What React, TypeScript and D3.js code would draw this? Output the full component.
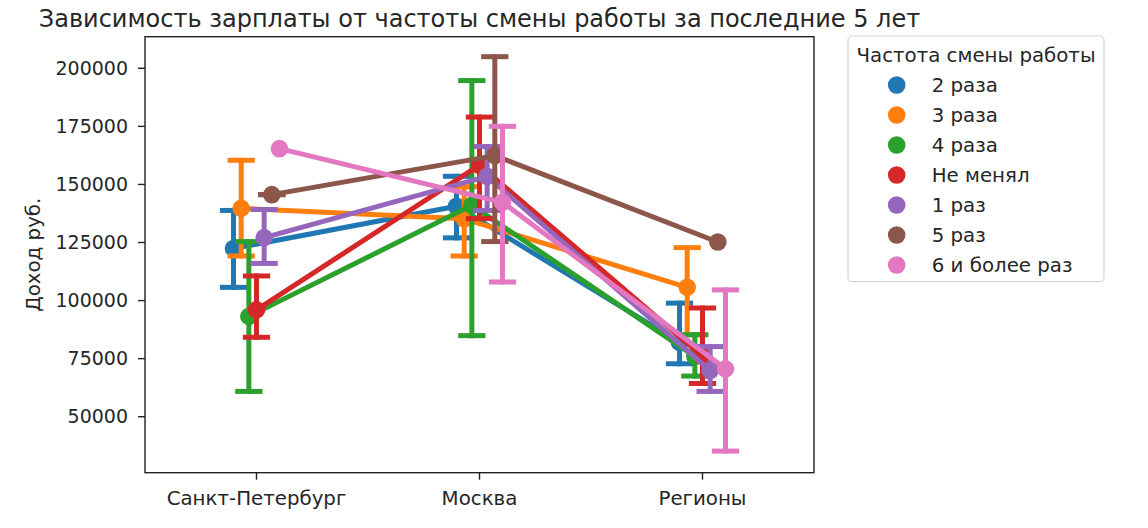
import React from 'react'
import * as d3 from 'd3'

// categories on the x axis
const categories = ['Санкт-Петербург', 'Москва', 'Регионы']

// hue levels (legend order)
const seriesNames = ['2 раза', '3 раза', '4 раза', 'Не менял', '1 раз', '5 раз', '6 и более раз']
const seriesColors = ['#1f77b4', '#ff7f0e', '#2ca02c', '#d62728', '#9467bd', '#8c564b', '#e377c2']

// estimated means per series (SPb, Moscow, Regions)
const means2 = [122400, 140600, 82000]
const means3 = [139700, 135200, 105700]
const means4 = [93200, 141000, 76000]
const meansNone = [96000, 158300, 76000]
const means1 = [127100, 153500, 69900]
const means5 = [145600, 162400, 125200]
const means6 = [165400, 142300, 70600]

// confidence intervals (low / high), null = no bar drawn
const lo2 = [105700, 127000, 72800]
const hi2 = [138800, 153500, 98900]
const lo3 = [119200, 119200, 85300]
const hi3 = [160400, 149000, 122800]
const lo4 = [60900, 84900, 67500]
const hi4 = [125400, 194700, 85300]
const loNone = [84200, 135300, 64300]
const hiNone = [110600, 179000, 96800]
const lo1 = [116000, 138800, 60900]
const hi1 = [139200, 166300, 80200]
const lo5 = [145600, 125400, null]
const hi5 = [145600, 205000, null]
const lo6 = [null, 108000, 35200]
const hi6 = [null, 175000, 104600]

const yTicks = [50000, 75000, 100000, 125000, 150000, 175000, 200000]

const allMeans = [means2, means3, means4, meansNone, means1, means5, means6]
const allLo = [lo2, lo3, lo4, loNone, lo1, lo5, lo6]
const allHi = [hi2, hi3, hi4, hiNone, hi1, hi5, hi6]

const FONT = 'DejaVu Sans, sans-serif'
const TEXT = '#262626'

function App() {
  const left = 145
  const right = 814
  const top = 36.7
  const bottom = 472.7

  const x = d3.scaleLinear().domain([-0.5, categories.length - 0.5]).range([left, right])
  const y = d3.scaleLinear().domain([25900, 213600]).range([bottom, top])

  // seaborn-like dodge
  const n = seriesNames.length
  const dodge = 0.206
  const offsets = d3.range(n).map(j => (j / (n - 1)) * dodge - dodge / 2)
  const capHalf = 0.05
  const lw = 5

  const line = d3
    .line<[number, number]>()
    .x(d => d[0])
    .y(d => d[1])

  return (
    <svg
      width={1148}
      height={528}
      style={{position: 'absolute', left: 0, top: 0, background: 'white'}}
      fontFamily={FONT}>
      {/* title */}
      <text x={(left + right) / 2} y={26.5} textAnchor="middle" fontSize={24} fill={TEXT}>
        Зависимость зарплаты от частоты смены работы за последние 5 лет
      </text>

      {/* y ticks */}
      {yTicks.map(t => (
        <g key={t}>
          <line x1={left - 7} x2={left} y1={y(t)} y2={y(t)} stroke="#222" strokeWidth={1.4} />
          <text x={left - 17} y={y(t)} dy="0.35em" textAnchor="end" fontSize={19} fill={TEXT}>
            {t}
          </text>
        </g>
      ))}
      {/* x ticks */}
      {categories.map((c, i) => (
        <g key={c}>
          <line x1={x(i)} x2={x(i)} y1={bottom} y2={bottom + 7} stroke="#222" strokeWidth={1.4} />
          <text x={x(i)} y={505} textAnchor="middle" fontSize={19.8} fill={TEXT}>
            {c}
          </text>
        </g>
      ))}
      <text
        transform={`translate(${33},${(top + bottom) / 2}) rotate(-90)`}
        textAnchor="middle"
        dy="0.35em"
        fontSize={19.8}
        fill={TEXT}>
        Доход руб.
      </text>

      {/* series */}
      {seriesNames.map((name, j) => {
        const color = seriesColors[j]
        const pts: [number, number][] = allMeans[j].map((v, i) => [x(i + offsets[j]), y(v)])
        return (
          <g key={name}>
            <path d={line(pts) || ''} fill="none" stroke={color} strokeWidth={lw} strokeLinejoin="round" />
            {allMeans[j].map((_, i) => {
              const l = allLo[j][i]
              const h = allHi[j][i]
              if (l == null || h == null) return null
              const cx = i + offsets[j]
              return (
                <g key={i} stroke={color} strokeWidth={lw} strokeLinecap="square">
                  <line x1={x(cx)} x2={x(cx)} y1={y(l)} y2={y(h)} />
                  <line x1={x(cx - capHalf)} x2={x(cx + capHalf)} y1={y(l)} y2={y(l)} />
                  <line x1={x(cx - capHalf)} x2={x(cx + capHalf)} y1={y(h)} y2={y(h)} />
                </g>
              )
            })}
            {pts.map((p, i) => (
              <circle key={i} cx={p[0]} cy={p[1]} r={8.8} fill={color} />
            ))}
          </g>
        )
      })}

      {/* axes frame */}
      <rect x={left} y={top} width={right - left} height={bottom - top} fill="none" stroke="#222" strokeWidth={1.4} />

      {/* legend */}
      <g>
        <rect x={848} y={36} width={256} height={245.7} rx={4} fill="white" stroke="#d4d4d4" strokeWidth={1.2} />
        <text x={976} y={61.7} textAnchor="middle" fontSize={19.8} fill={TEXT}>
          Частота смены работы
        </text>
        {seriesNames.map((name, j) => (
          <g key={name}>
            <circle cx={896.7} cy={85 + j * 30} r={8.8} fill={seriesColors[j]} />
            <text x={931.7} y={85 + j * 30} dy="0.35em" fontSize={19.8} fill={TEXT}>
              {name}
            </text>
          </g>
        ))}
      </g>
    </svg>
  )
}

export default App
